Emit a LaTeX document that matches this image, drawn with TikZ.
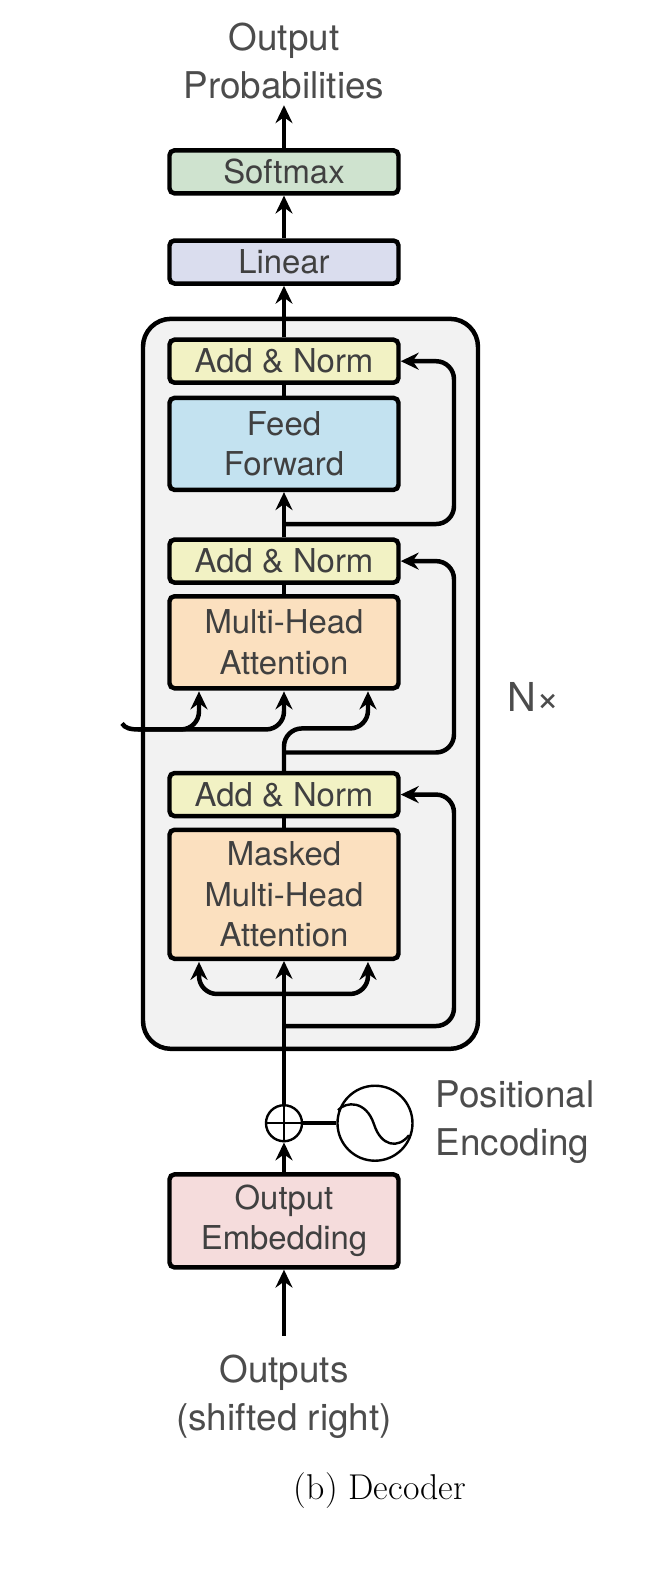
\documentclass[tikz,border=0pt]{standalone}
\usepackage{fontspec}
\usetikzlibrary{arrows.meta}
\newfontfamily\helv{TeX Gyre Heros}
\definecolor{softmaxfill}{RGB}{207,227,207}
\definecolor{linearfill}{RGB}{218,221,238}
\definecolor{normfill}{RGB}{242,242,196}
\definecolor{forwardfill}{RGB}{195,226,240}
\definecolor{attnfill}{RGB}{251,224,191}
\definecolor{embedfill}{RGB}{245,220,220}
\tikzset{
  blockbox/.style={draw=black, line width=4.5pt, rounded corners=5pt, minimum width=229bp, inner sep=0pt, align=center, text=black!75, font=\helv\fontsize{33}{40.2}\selectfont},
  labeltext/.style={inner sep=0pt, align=center, text=black!70, font=\helv\fontsize{37}{47.5}\selectfont},
  tip/.tip={Stealth[length=18pt,width=17pt,inset=6pt]},
  flow/.style={line width=4.5pt, -tip},
  plainflow/.style={line width=4.5pt},
}
\begin{document}
\begin{tikzpicture}[x=1bp, y=-1.002bp]
  \useasboundingbox (0,0) rectangle (650,1568.9);

  % Repeated stack
  \node[draw=black, line width=4.5pt, rounded corners=28pt, fill=black!5, minimum width=335bp, minimum height=730bp] (stack) at (310.5,682.5) {};

  % Blocks, top to bottom
  \node[blockbox, fill=softmaxfill, minimum height=43bp] (softmax) at (284,171.5) {Softmax};
  \node[blockbox, fill=linearfill, minimum height=43bp] (linear) at (284,261.5) {Linear};
  \node[blockbox, fill=normfill, minimum height=43bp] (an1) at (284,360.5) {Add \& Norm};
  \node[blockbox, fill=forwardfill, minimum height=92bp] (ff) at (284,443) {Feed\\Forward};
  \node[blockbox, fill=normfill, minimum height=43bp] (an2) at (284,560) {Add \& Norm};
  \node[blockbox, fill=attnfill, minimum height=92bp] (mha) at (284,641) {Multi-Head\\Attention};
  \node[blockbox, fill=normfill, minimum height=43bp] (an3) at (284,793) {Add \& Norm};
  \node[blockbox, fill=attnfill, minimum height=129bp] (masked) at (284,892.5) {Masked\\Multi-Head\\Attention};
  \node[blockbox, fill=embedfill, minimum height=93bp] (embed) at (284,1218.5) {Output\\Embedding};

  % Texts
  \node[labeltext] (outprob) at (284,61) {Output\\Probabilities};
  \node[labeltext, font=\helv\fontsize{40}{47}\selectfont] (nx) at (534,696) {N×};
  \node[labeltext, align=left] (posenc) at (515,1120) {Positional\\Encoding};
  \node[labeltext] (outputs) at (284,1394) {Outputs\\(shifted right)};
  \node[inner sep=0pt, font=\fontsize{36}{40}\selectfont] (caption) at (380,1488) {(b) Decoder};

  % Adder and sine source
  \node[draw=black, line width=2.4pt, circle, fill=white, minimum size=36bp, inner sep=0pt] (plus) at (284,1121) {};
  \node[draw=black, line width=2.4pt, circle, fill=white, minimum size=75bp, inner sep=0pt] (sine) at (375,1121) {};
  \draw[line width=2.4pt] (plus.north) -- (plus.south); % Plus sign
  \draw[line width=2.4pt] (plus.west) -- (plus.east);
  \draw[line width=2.4pt] (338,1108) .. controls (346,1099) and (366,1098) .. (374,1122) .. controls (381,1144) and (398,1147) .. (409,1133); % Sine wave

  % Free ends and taps
  \coordinate (top) at (284,105);
  \coordinate (bottom) at (284,1333);
  \coordinate (memtail) at (122,722);
  \coordinate (memin) at (138,728);
  \coordinate (mhaL) at (199,690);
  \coordinate (mhaM) at (284,690);
  \coordinate (mhaR) at (368,690);
  \coordinate (mhaC) at (368,727);
  \coordinate (tap1) at (284,523);
  \coordinate (tap2) at (284,751);
  \coordinate (tap3) at (284,1024);
  \coordinate (rail1) at (454,360.5);
  \coordinate (rail2) at (454,560);
  \coordinate (rail3) at (454,793);
  \coordinate (maskL) at (199,960);
  \coordinate (maskM) at (284,992);
  \coordinate (maskR) at (368,960);

  % Main path
  \draw[flow] (softmax.north) -- (top);
  \draw[flow] (linear.north) -- (softmax.south);
  \draw[flow] (an1.north) -- (linear.south);
  \draw[plainflow] (ff.north) -- (an1.south);
  \draw[flow] (an2.north) -- (ff.south);
  \draw[plainflow] (mha.north) -- (an2.south);
  \draw[plainflow] (masked.north) -- (an3.south);
  \draw[flow] (plus.north) -- (masked.south);
  \draw[flow] (embed.north) -- (plus.south);
  \draw[flow] (bottom) -- (embed.south);
  \draw[line width=3.5pt] (plus.east) -- (sine.west);

  % Residual connections
  \foreach \i in {1,2,3} {
    \draw[flow, rounded corners=18pt] (tap\i) -| (rail\i) -- (an\i.east);
  }

  % Inputs of the attention blocks
  \draw[plainflow] (memtail) .. controls (125,727) and (131,728) .. (memin);
  \draw[flow, rounded corners=18pt] (memin) -| (mhaL);
  \draw[flow, rounded corners=18pt] (memin) -| (mhaM);
  \draw[flow, rounded corners=18pt] (an3.north) |- (mhaC) -- (mhaR);
  \draw[line width=4.5pt, tip-tip, rounded corners=18pt] (maskL) |- (maskM) -| (maskR);
\end{tikzpicture}
\end{document}
